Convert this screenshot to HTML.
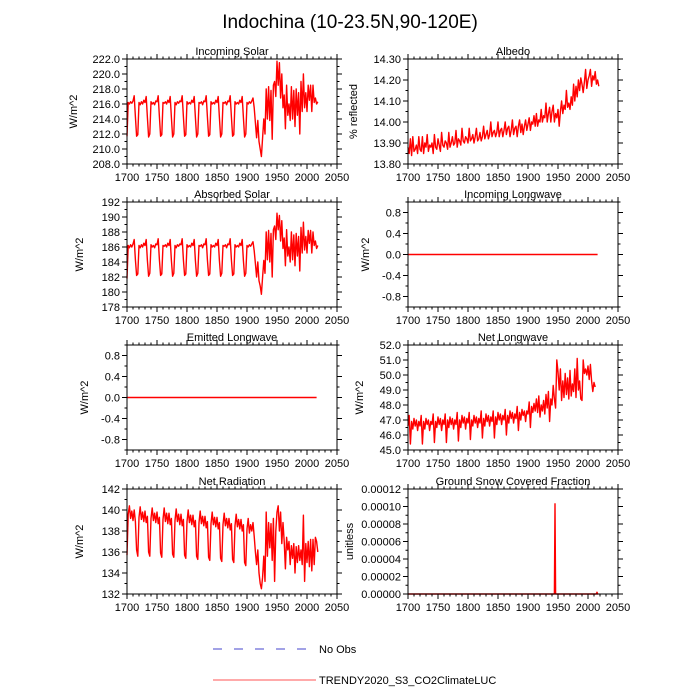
<!DOCTYPE html>
<html><head><meta charset="utf-8">
<style>
body{margin:0;background:#fff;}
svg{display:block;font-family:"Liberation Sans",sans-serif;}
</style></head>
<body>
<svg id="chart" width="700" height="700" viewBox="0 0 700 700">
<text x="350" y="28" text-anchor="middle" font-size="19">Indochina (10-23.5N,90-120E)</text>
<g>
<line x1="213" y1="649" x2="307" y2="649" stroke="#4444cc" stroke-width="1" stroke-dasharray="9,12"/>
<text x="319" y="653" font-size="11">No Obs</text>
<line x1="213" y1="680" x2="316" y2="680" stroke="#ff5555" stroke-width="1"/>
<text x="319" y="684" font-size="11">TRENDY2020_S3_CO2ClimateLUC</text>
</g>
</svg>
<script>
const xTicks=[1700,1750,1800,1850,1900,1950,2000,2050];
const solarVals=[
211.7,216.2,216.0,216.3,216.1,216.4,217.1,214.3,211.7,211.9,
216.2,215.9,216.3,216.0,216.5,216.2,217.0,214.2,211.6,212.0,
216.3,216.0,216.2,215.9,216.4,216.3,217.1,214.3,211.7,211.9,
216.2,216.1,216.3,216.0,216.5,216.2,217.0,214.2,211.6,212.0,
216.2,215.9,216.3,216.1,216.4,216.3,217.1,214.3,211.7,211.9,
216.3,216.0,216.2,216.0,216.5,216.2,217.0,214.2,211.6,212.0,
216.2,216.1,216.3,215.9,216.4,216.3,217.1,214.3,211.7,211.9,
216.3,216.0,216.2,216.0,216.5,216.2,217.0,214.2,211.6,212.0,
216.2,216.1,216.3,215.9,216.4,216.3,217.1,214.3,211.7,211.9,
216.3,216.0,216.2,216.0,216.5,216.2,217.0,214.2,211.6,212.0,
216.2,216.0,216.3,216.1,216.4,216.8,215.5,213.5,211.5,213.8,211.0,210.0,209.0,211.5,214.0,212.0,218.0,214.0,218.3,213.8,
217.8,211.3,218.5,219.0,217.0,221.7,218.5,221.5,216.8,220.0,215.5,217.2,212.7,218.5,214.5,216.0,213.8,218.3,214.0,217.8,
213.0,218.0,214.5,217.5,212.0,219.0,215.0,220.0,215.5,217.5,215.0,218.5,216.5,218.5,215.0,218.5,216.2,216.8,216.0,216.3];
const absorbedVals=[
181.8,186.2,185.9,186.3,186.0,186.4,187.0,184.3,182.2,182.4,
186.2,185.9,186.3,186.0,186.5,186.2,187.0,184.2,182.1,182.5,
186.3,186.0,186.2,185.9,186.4,186.3,187.1,184.3,182.2,182.4,
186.2,186.1,186.3,186.0,186.5,186.2,187.0,184.2,182.1,182.5,
186.2,185.9,186.3,186.1,186.4,186.3,187.1,184.3,182.2,182.4,
186.3,186.0,186.2,186.0,186.5,186.2,187.0,184.2,182.1,182.5,
186.2,186.1,186.3,185.9,186.4,186.3,187.1,184.3,182.2,182.4,
186.3,186.0,186.2,186.0,186.5,186.2,187.0,184.2,182.1,182.5,
186.2,186.1,186.3,185.9,186.4,186.3,187.1,184.3,182.2,182.4,
186.3,186.0,186.2,186.0,186.5,186.2,187.0,184.2,182.1,182.5,
186.2,186.0,186.3,186.1,186.4,186.7,185.5,183.8,182.0,184.0,181.5,180.8,179.7,182.0,184.2,182.5,188.0,184.3,188.2,184.0,
187.8,182.0,188.3,188.8,187.0,190.5,188.3,190.2,186.8,189.5,185.8,187.2,183.5,188.3,184.8,186.0,184.0,188.0,184.3,187.6,
183.5,187.8,184.8,187.4,182.8,188.6,185.2,189.3,185.6,187.4,185.2,188.2,186.5,188.2,185.2,188.0,186.2,186.8,185.8,186.2];
const albedoVals=[
13.88,13.85,13.92,13.84,13.93,13.86,13.87,13.89,13.85,13.93,13.87,13.86,13.93,13.85,13.90,13.88,13.94,13.86,13.89,13.88,
13.90,13.85,13.94,13.88,13.87,13.92,13.89,13.86,13.95,13.89,13.88,13.91,13.90,13.87,13.95,13.88,13.90,13.93,13.89,13.90,
13.96,13.88,13.92,13.91,13.89,13.97,13.91,13.90,13.93,13.92,13.90,13.97,13.91,13.92,13.94,13.90,13.93,13.97,13.91,13.92,
13.95,13.91,13.93,13.98,13.92,13.94,13.96,13.92,13.94,14.00,13.93,13.95,13.96,13.93,13.95,14.00,13.93,13.96,13.97,13.93,
13.96,14.00,13.94,13.97,13.98,13.93,13.96,14.01,13.94,13.97,13.98,13.93,13.98,14.01,13.95,13.99,13.94,13.98,14.01,13.96,
13.99,14.02,13.96,14.00,13.99,14.03,13.98,14.04,13.98,14.01,14.00,14.06,14.00,14.03,14.02,14.09,14.00,14.04,14.07,14.00,
14.05,14.08,14.00,14.04,14.02,14.06,13.98,14.05,14.10,14.04,14.08,14.06,14.15,14.07,14.09,14.06,14.12,14.08,14.18,14.10,
14.17,14.12,14.20,14.15,14.21,14.18,14.14,14.19,14.25,14.16,14.20,14.22,14.25,14.17,14.22,14.20,14.24,14.18,14.20,14.17];
const inLwVals=[0,0,0,0,0,0,0,0,0,0,0,0,0,0,0,0,0,0,0,0,0,0,0,0,0,0,0,0,0,0,0,0,0,0,0,0,0,0,0,0,0,0,0,0,0,0,0,0,0,0,0,0,0,0,0,0,0,0,0,0,0,0,0,0,0,0,0,0,0,0,0,0,0,0,0,0,0,0,0,0,0,0,0,0,0,0,0,0,0,0,0,0,0,0,0,0,0,0,0,0,0,0,0,0,0,0,0,0,0,0,0,0,0,0,0,0,0,0,0,0,0,0,0,0,0,0,0,0,0,0,0,0,0,0,0,0,0,0,0,0,0,0,0,0,0,0,0,0,0,0,0,0,0,0,0,0,0,0,0];
const emLwVals=[0,0,0,0,0,0,0,0,0,0,0,0,0,0,0,0,0,0,0,0,0,0,0,0,0,0,0,0,0,0,0,0,0,0,0,0,0,0,0,0,0,0,0,0,0,0,0,0,0,0,0,0,0,0,0,0,0,0,0,0,0,0,0,0,0,0,0,0,0,0,0,0,0,0,0,0,0,0,0,0,0,0,0,0,0,0,0,0,0,0,0,0,0,0,0,0,0,0,0,0,0,0,0,0,0,0,0,0,0,0,0,0,0,0,0,0,0,0,0,0,0,0,0,0,0,0,0,0,0,0,0,0,0,0,0,0,0,0,0,0,0,0,0,0,0,0,0,0,0,0,0,0,0,0,0,0,0,0,0];
const netLwVals=[
46.6,47.3,45.4,46.9,46.4,47.1,46.6,47.0,46.3,46.9,
46.6,47.3,45.4,46.9,46.4,47.1,46.7,47.0,46.3,46.9,
46.7,47.4,45.5,46.9,46.5,47.2,46.7,47.1,46.3,47.0,
46.7,47.4,45.5,47.0,46.5,47.2,46.7,47.1,46.4,47.0,
46.7,47.5,45.6,47.0,46.5,47.3,46.8,47.2,46.4,47.1,
46.8,47.5,45.7,47.0,46.6,47.3,46.8,47.2,46.5,47.1,
46.8,47.6,45.8,47.1,46.6,47.4,46.9,47.3,46.6,47.2,
46.9,47.6,45.8,47.2,46.7,47.5,47.0,47.4,46.7,47.3,
47.0,47.7,46.0,47.3,46.8,47.6,47.1,47.5,46.8,47.4,
47.1,47.9,46.3,47.5,47.0,47.7,47.3,47.6,46.9,47.6,
47.4,48.2,46.5,47.9,47.5,48.1,47.6,48.4,47.5,48.6,47.2,48.0,47.6,48.3,47.4,48.7,47.8,48.9,46.9,48.4,
48.0,49.3,48.4,47.8,51.0,50.2,49.0,50.4,48.3,49.6,48.5,50.1,48.7,49.8,48.4,50.3,48.6,49.4,48.9,50.4,
48.5,51.1,49.0,49.6,48.4,48.3,51.0,50.1,50.4,50.0,50.6,49.7,50.7,49.6,48.9,49.5,49.2];
const netRadVals=[
135.7,139.6,140.4,139.2,139.9,139.0,140.0,138.9,136.2,135.6,
139.3,140.3,139.1,139.8,138.9,139.9,138.8,139.4,136.0,135.6,
139.2,140.2,139.0,139.7,138.8,139.8,138.7,139.3,135.9,135.5,
139.1,140.2,138.9,139.7,138.7,139.7,138.6,139.2,135.8,135.5,
139.0,140.1,138.9,139.6,138.6,139.6,138.5,139.1,135.7,135.4,
138.9,140.0,138.8,139.5,138.6,139.5,138.4,139.0,135.6,135.3,
138.8,139.9,138.7,139.4,138.5,139.4,138.3,138.9,135.5,135.2,
138.7,139.8,138.6,139.3,138.4,139.3,138.2,138.8,135.4,135.1,
138.6,139.7,138.5,139.2,138.3,139.2,138.1,138.7,135.3,135.0,
138.5,139.6,138.4,139.1,138.2,139.1,138.0,138.6,135.0,134.7,
138.2,139.2,137.8,138.6,138.0,138.8,137.5,136.0,134.8,136.2,134.0,133.0,132.5,133.6,135.6,133.2,139.8,135.6,138.8,136.4,
138.7,135.2,139.2,133.2,138.0,139.8,140.4,138.0,139.8,136.8,138.8,137.0,134.4,137.4,136.2,137.0,134.8,136.6,135.4,136.8,
134.0,136.5,135.0,136.6,135.2,136.2,134.8,139.5,133.2,136.8,135.0,137.0,134.6,137.2,134.2,137.2,134.8,137.4,137.0,136.0];
const snowYears=[1700,1943,1944,1945,1946,1947,2013,2014,2015,2016,2017];
const snowVals=[0,0,0,0.000103,0,0,0,0,0.000002,0,0];

const NS='http://www.w3.org/2000/svg';
const svg=document.getElementById('chart');
function mk(tag,attrs,parent){const e=document.createElementNS(NS,tag);for(const k in attrs)e.setAttribute(k,attrs[k]);(parent||svg).appendChild(e);return e;}

const panels=[
 {id:'incoming-solar',title:'Incoming Solar',ytitle:'W/m^2',vals:solarVals,ymin:208,ymax:222,step:2,dec:1,L:127,T:59,yt:77},
 {id:'albedo',title:'Albedo',ytitle:'% reflected',vals:albedoVals,ymin:13.8,ymax:14.3,step:0.1,dec:2,L:408,T:59,yt:357},
 {id:'absorbed-solar',title:'Absorbed Solar',ytitle:'W/m^2',vals:absorbedVals,ymin:178,ymax:192,step:2,dec:0,L:127,T:202,yt:83},
 {id:'incoming-longwave',title:'Incoming Longwave',ytitle:'W/m^2',vals:inLwVals,ymin:-1,ymax:1,step:0.4,dec:1,L:408,T:202,yt:369,tstart:-0.8},
 {id:'emitted-longwave',title:'Emitted Longwave',ytitle:'W/m^2',vals:emLwVals,ymin:-1,ymax:1,step:0.4,dec:1,L:127,T:345,yt:88,tstart:-0.8},
 {id:'net-longwave',title:'Net Longwave',ytitle:'W/m^2',vals:netLwVals,ymin:45,ymax:52,step:1,dec:1,L:408,T:345,yt:363},
 {id:'net-radiation',title:'Net Radiation',ytitle:'W/m^2',vals:netRadVals,ymin:132,ymax:142,step:2,dec:0,L:127,T:489,yt:83},
 {id:'ground-snow',title:'Ground Snow Covered Fraction',ytitle:'unitless',vals:null,years:snowYears,yv:snowVals,ymin:0,ymax:0.00012,step:0.00002,dec:5,L:408,T:489,yt:353}
];
const W=210,H=105,X0=1700,X1=2050;

panels.forEach(p=>{
 const g=mk('g',{});
 
 
 const xs=v=>p.L+(v-X0)/(X1-X0)*W;
 const ys=v=>p.T+H-(v-p.ymin)/(p.ymax-p.ymin)*H;
 const R=p.L+W,B=p.T+H;
 let pts=[];
 if(p.vals){p.vals.forEach((v,i)=>{const yr=1700+2*i;pts.push(xs(yr).toFixed(2)+','+ys(v).toFixed(2));});}
 else{p.years.forEach((yr,i)=>pts.push(xs(yr).toFixed(2)+','+ys(p.yv[i]).toFixed(2)));}
 const line=mk('polyline',{points:pts.join(' '),fill:'none',stroke:'#ff0000','stroke-width':1.4,'stroke-linejoin':'round'},g);
 
 
 const fr=mk('rect',{x:p.L,y:p.T,width:W,height:H,fill:'none',stroke:'#000','stroke-width':1},g);
 
 
 let tk='';
 xTicks.forEach(t=>{const x=xs(t);tk+=`M${x},${B}v5M${x},${p.T}v-5`;
  const lb=mk('text',{x:x,y:B+17,'text-anchor':'middle','font-size':11},g);lb.textContent=t;
  
  });
 for(let t=X0+10;t<X1;t+=10){if((t-X0)%50===0)continue;const x=xs(t);tk+=`M${x},${B}v2.5M${x},${p.T}v-2.5`;}
 const start=p.tstart!==undefined?p.tstart:p.ymin;
 const n=Math.floor((p.ymax-start)/p.step+1e-6);
 for(let i=0;i<=n;i++){const v=start+i*p.step;const y=ys(v);tk+=`M${p.L},${y}h-5M${R},${y}h5`;
  let s=(Math.abs(v)<1e-12?0:v).toFixed(p.dec);
  const lb=mk('text',{x:p.L-7,y:y+4,'text-anchor':'end','font-size':11},g);lb.textContent=s;
  
  }
 for(let i=-1;i<=n+1;i++){const v=start+(i+0.5)*p.step;if(v<p.ymin-1e-12||v>p.ymax+1e-12)continue;const y=ys(v);tk+=`M${p.L},${y}h-2.5M${R},${y}h2.5`;}
 const tp=mk('path',{d:tk,stroke:'#000','stroke-width':1,fill:'none'},g);
 
 
 const tt=mk('text',{x:p.L+W/2,y:p.T-4,'text-anchor':'middle','font-size':11},g);tt.textContent=p.title;
 
 
 const yt=mk('text',{x:p.yt,y:p.T+H/2,'text-anchor':'middle','font-size':11,transform:`rotate(-90 ${p.yt} ${p.T+H/2})`},g);yt.textContent=p.ytitle;
 
 
});
</script>
</body></html>
